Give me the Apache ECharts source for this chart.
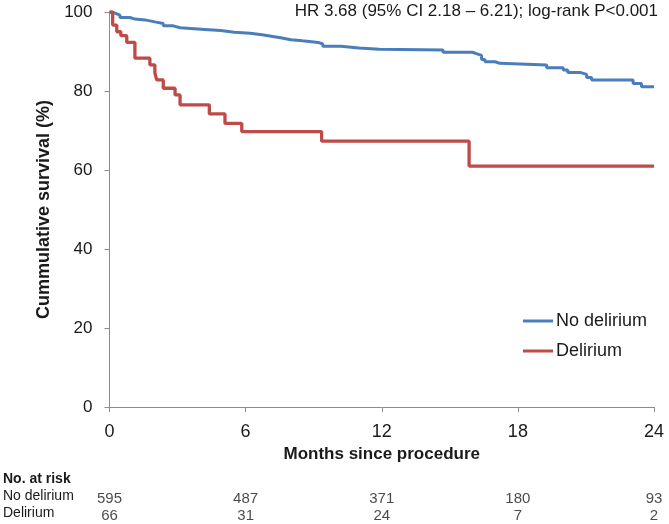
<!DOCTYPE html>
<html>
<head>
<meta charset="utf-8">
<script src="https://cdn.jsdelivr.net/npm/echarts@6/dist/echarts.min.js"></script>
<style>html,body{margin:0;padding:0;background:#fff;}#c{width:669px;height:524px;}</style>
</head>
<body>
<div id="c"></div>
<script>
// Kaplan-Meier data (months, survival %)
const noDelMonths = [0,0.1,0.3,0.46,0.9,1.12,1.57,2.0,2.37,2.81,3.11,4.2,4.9,5.5,6.2,6.8,7.2,7.6,8.0,8.5,9.2,9.4,10.2,11.0,11.9,14.7,16.0,16.2,16.4,16.55,17.0,17.2,19.27,20.0,20.2,20.74,21.03,21.25,23.08,23.45,24];
const noDelSurv   = [100,99.6,99.2,98.6,98.2,98.0,97.5,97.1,96.5,96.0,95.6,95.3,94.9,94.6,94.2,93.8,93.4,93.0,92.7,92.3,91.9,91.3,90.9,90.6,90.4,89.8,89.4,89.0,88.0,87.4,87.0,86.6,85.9,85.3,84.7,84.2,83.4,82.8,81.9,81.1,81.1];
const delMonths = [0,0.14,0.32,0.5,0.76,1.12,1.78,2.0,2.08,2.37,2.89,3.11,4.4,5.09,5.83,9.35,15.85,24];
const delSurv   = [100,96.7,95.0,94.0,92.3,88.3,86.6,84.6,82.8,80.7,79.0,76.5,74.2,71.8,69.7,67.3,61.0,61.0];
const xTicks = [0,6,12,18,24];
const yTicks = [0,20,40,60,80,100];
const groups = ['No delirium','Delirium'];
const atRiskNoDel = [595,487,371,180,93];
const atRiskDel = [66,31,24,7,2];
const hrText = 'HR 3.68 (95% CI 2.18 \u2013 6.21); log-rank P<0.001';

const FONT = '"Liberation Sans", Arial, sans-serif';
const chart = echarts.init(document.getElementById('c'));
const zip = (a,b) => a.map((v,i)=>[v,b[i]]);
const riskData = [];
xTicks.forEach((t,i)=>{ riskData.push([t, groups[0], atRiskNoDel[i]]); riskData.push([t, groups[1], atRiskDel[i]]); });

chart.setOption({
  animation: false,
  backgroundColor: '#fff',
  textStyle: { fontFamily: FONT },
  title: [
    { text: hrText, right: 11, top: 3, padding: 0, textStyle: { fontFamily: FONT, fontSize: 17, fontWeight: 'normal', color: '#1a1a1a' } },
    { text: 'No. at risk', left: 3, top: 472, padding: 0, textStyle: { fontFamily: FONT, fontSize: 14, fontWeight: 'bold', color: '#1a1a1a' } }
  ],
  legend: {
    orient: 'vertical', left: 523, top: 312, padding: 0, itemWidth: 30, itemHeight: 3, itemGap: 12,
    icon: 'rect',
    textStyle: { fontFamily: FONT, fontSize: 18, color: '#1a1a1a', padding: [0,0,0,-2] },
    data: groups
  },
  grid: [
    { left: 109.5, right: 15, top: 12, bottom: 117 },
    { left: 109.5, right: 15, top: 487.5, height: 34 }
  ],
  xAxis: [
    { type: 'value', gridIndex: 0, min: 0, max: 24, interval: 6,
      name: 'Months since procedure', nameLocation: 'middle', nameGap: 31,
      nameTextStyle: { fontFamily: FONT, fontSize: 17, fontWeight: 'bold', color: '#1a1a1a' },
      axisLine: { show: true, lineStyle: { color: '#8c8c8c', width: 1 } },
      axisTick: { show: true, length: 5, lineStyle: { color: '#8c8c8c' } },
      axisLabel: { fontFamily: FONT, fontSize: 18, color: '#1a1a1a', margin: 16 },
      splitLine: { show: false } },
    { type: 'value', gridIndex: 1, min: 0, max: 24, interval: 6, show: false }
  ],
  yAxis: [
    { type: 'value', gridIndex: 0, min: 0, max: 100, interval: 20,
      name: 'Cummulative survival (%)', nameLocation: 'middle', nameGap: 56,
      nameTextStyle: { fontFamily: FONT, fontSize: 18, fontWeight: 'bold', color: '#1a1a1a' },
      axisLine: { show: true, lineStyle: { color: '#8c8c8c', width: 1 } },
      axisTick: { show: true, length: 5, lineStyle: { color: '#8c8c8c' } },
      axisLabel: { fontFamily: FONT, fontSize: 17, color: '#1a1a1a', margin: 17 },
      splitLine: { show: false } },
    { type: 'category', gridIndex: 1, data: groups, inverse: true,
      axisLine: { show: false }, axisTick: { show: false },
      axisLabel: { interval: 0, align: 'left', margin: 106.5, fontFamily: FONT, fontSize: 14, color: '#1a1a1a' } }
  ],
  series: [
    { name: groups[0], type: 'line', xAxisIndex: 0, yAxisIndex: 0, step: 'end', symbol: 'none',
      data: zip(noDelMonths, noDelSurv), lineStyle: { color: '#4a7ebb', width: 3 }, itemStyle: { color: '#4a7ebb' } },
    { name: groups[1], type: 'line', xAxisIndex: 0, yAxisIndex: 0, step: 'end', symbol: 'none',
      data: zip(delMonths, delSurv), lineStyle: { color: '#be4b48', width: 3.3 }, itemStyle: { color: '#be4b48' } },
    { type: 'scatter', xAxisIndex: 1, yAxisIndex: 1, symbolSize: 0, data: riskData,
      label: { show: true, position: 'inside', offset: [0, 3], formatter: p => String(p.value[2]),
        fontFamily: FONT, fontSize: 15, color: '#1a1a1a' } }
  ]
});
</script>
</body>
</html>
